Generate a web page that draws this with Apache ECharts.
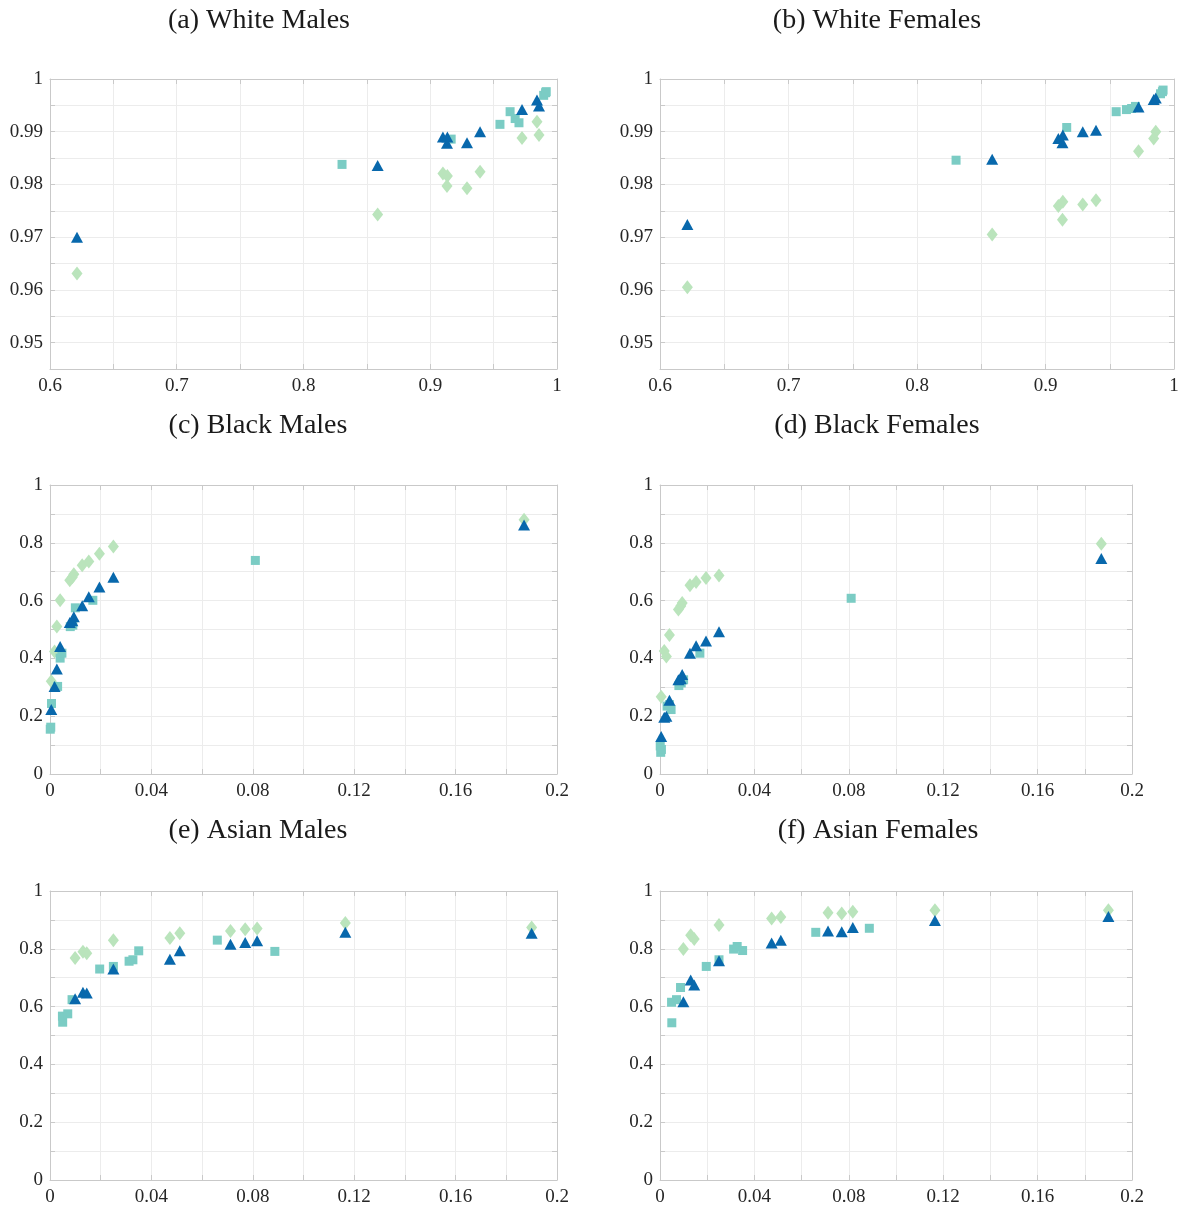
<!DOCTYPE html>
<html>
<head>
<meta charset="utf-8">
<title>Scatter panels</title>
<script src="https://cdn.jsdelivr.net/npm/echarts@6/dist/echarts.min.js"></script>
<style>
  html, body { margin: 0; padding: 0; background: #ffffff; }
  #chart { width: 1182px; height: 1207px; }
</style>
</head>
<body>
<div id="chart"></div>
<script>
// Panel titles
const panelTitles = ['(a) White Males', '(b) White Females', '(c) Black Males',
                     '(d) Black Females', '(e) Asian Males', '(f) Asian Females'];

// ---- White (panels a, b) ----
const whiteModelX = [0.6213, 0.8585, 0.910, 0.9132, 0.9135, 0.929, 0.9393, 0.9724, 0.9842, 0.9858];
const whiteSquareX = [0.8304, 0.9165, 0.955, 0.963, 0.967, 0.970, 0.9895, 0.991, 0.9915];

const whiteMaleDiamond  = [0.9631, 0.9743, 0.9821, 0.9797, 0.9816, 0.9793, 0.9824, 0.9888, 0.9919, 0.9894];
const whiteMaleTriangle = [0.9700, 0.9836, 0.9890, 0.9878, 0.9890, 0.9879, 0.9900, 0.9942, 0.9960, 0.9949];
const whiteMaleSquare   = [0.9838, 0.9886, 0.9914, 0.9938, 0.9925, 0.9917, 0.9969, 0.9974, 0.9976];

const whiteFemaleDiamond  = [0.9605, 0.9705, 0.9759, 0.9733, 0.9767, 0.9762, 0.9770, 0.9863, 0.9887, 0.9900];
const whiteFemaleTriangle = [0.9724, 0.9848, 0.9887, 0.9879, 0.9894, 0.9900, 0.9903, 0.9947, 0.9961, 0.9964];
const whiteFemaleSquare   = [0.9846, 0.9908, 0.9938, 0.9942, 0.9944, 0.9948, 0.9972, 0.9976, 0.9979];

// ---- Black (panels c, d) ----
const blackModelX = [0.0005, 0.0018, 0.0027, 0.004, 0.0078, 0.0088, 0.0094, 0.0127, 0.0153, 0.0195, 0.025, 0.187];
const blackSquareX = [0.0001, 0.0003, 0.0006, 0.003, 0.004, 0.0047, 0.008, 0.009, 0.010, 0.0169, 0.081];

const blackMaleDiamond  = [0.321, 0.424, 0.510, 0.601, 0.670, 0.681, 0.691, 0.722, 0.735, 0.762, 0.787, 0.880];
const blackMaleTriangle = [0.223, 0.303, 0.363, 0.441, 0.524, 0.530, 0.544, 0.582, 0.613, 0.647, 0.681, 0.862];
const blackMaleSquare   = [0.155, 0.162, 0.244, 0.303, 0.401, 0.418, 0.510, 0.515, 0.575, 0.601, 0.739];

const blackFemaleDiamond  = [0.267, 0.426, 0.407, 0.481, 0.569, 0.581, 0.592, 0.653, 0.664, 0.678, 0.687, 0.797];
const blackFemaleTriangle = [0.130, 0.196, 0.200, 0.255, 0.326, 0.330, 0.344, 0.418, 0.444, 0.460, 0.492, 0.746];
const blackFemaleSquare   = [0.097, 0.075, 0.085, 0.235, 0.240, 0.223, 0.306, 0.315, 0.326, 0.418, 0.608];

// ---- Asian (panels e, f) ----
const asianModelX = [0.0099, 0.013, 0.0145, 0.025, 0.0473, 0.0512, 0.0712, 0.077, 0.0817, 0.1165, 0.19];
const asianSquareX = [0.0049, 0.005, 0.007, 0.0087, 0.0196, 0.025, 0.0312, 0.0327, 0.035, 0.066, 0.0887];

const asianMaleDiamond  = [0.768, 0.790, 0.785, 0.830, 0.837, 0.854, 0.862, 0.868, 0.870, 0.889, 0.874];
const asianMaleTriangle = [0.627, 0.650, 0.647, 0.730, 0.764, 0.793, 0.816, 0.822, 0.828, 0.857, 0.854];
const asianMaleSquare   = [0.567, 0.546, 0.575, 0.624, 0.730, 0.739, 0.757, 0.762, 0.793, 0.830, 0.791];

const asianFemaleDiamond  = [0.799, 0.847, 0.834, 0.882, 0.905, 0.910, 0.925, 0.922, 0.928, 0.933, 0.933];
const asianFemaleTriangle = [0.617, 0.692, 0.675, 0.759, 0.820, 0.830, 0.862, 0.859, 0.874, 0.898, 0.912];
const asianFemaleSquare   = [0.615, 0.544, 0.624, 0.666, 0.739, 0.762, 0.799, 0.808, 0.794, 0.857, 0.871];

// Axis ranges: [min, max, grid step, label step]
const whiteXRange = [0.6, 1, 0.05, 0.1];
const whiteYRange = [0.945, 1, 0.005, 0.01];
const shareXRange = [0, 0.2, 0.02, 0.04];
const shareYRange = [0, 1, 0.1, 0.2];

const COLORS = { diamond: '#bae4bc', square: '#7bccc4', triangle: '#0868ac' };
const SERIF = '"Liberation Serif", "DejaVu Serif", serif';
const FRAME = '#c9c9c9';
const GRIDLINE = '#ececec';

const panels = [
  { title: panelTitles[0], grid: { left: 50,  top: 79,  width: 507, height: 290 }, tx: 259, ty: 21,
    xr: whiteXRange, yr: whiteYRange, mx: whiteModelX, sx: whiteSquareX,
    d: whiteMaleDiamond, t: whiteMaleTriangle, s: whiteMaleSquare },
  { title: panelTitles[1], grid: { left: 660, top: 79,  width: 514, height: 290 }, tx: 877, ty: 21,
    xr: whiteXRange, yr: whiteYRange, mx: whiteModelX, sx: whiteSquareX,
    d: whiteFemaleDiamond, t: whiteFemaleTriangle, s: whiteFemaleSquare },
  { title: panelTitles[2], grid: { left: 50,  top: 485, width: 507, height: 289 }, tx: 258, ty: 426,
    xr: shareXRange, yr: shareYRange, mx: blackModelX, sx: blackSquareX,
    d: blackMaleDiamond, t: blackMaleTriangle, s: blackMaleSquare },
  { title: panelTitles[3], grid: { left: 660, top: 485, width: 472, height: 289 }, tx: 877, ty: 426,
    xr: shareXRange, yr: shareYRange, mx: blackModelX, sx: blackSquareX,
    d: blackFemaleDiamond, t: blackFemaleTriangle, s: blackFemaleSquare },
  { title: panelTitles[4], grid: { left: 50,  top: 891, width: 507, height: 289 }, tx: 258, ty: 831,
    xr: shareXRange, yr: shareYRange, mx: asianModelX, sx: asianSquareX,
    d: asianMaleDiamond, t: asianMaleTriangle, s: asianMaleSquare },
  { title: panelTitles[5], grid: { left: 660, top: 891, width: 472, height: 289 }, tx: 878, ty: 831,
    xr: shareXRange, yr: shareYRange, mx: asianModelX, sx: asianSquareX,
    d: asianFemaleDiamond, t: asianFemaleTriangle, s: asianFemaleSquare }
];

function isMultiple(v, step) {
  const q = v / step;
  return Math.abs(q - Math.round(q)) < 1e-6;
}
function tickText(v, step) {
  if (!isMultiple(v, step)) return '';
  return String(parseFloat(v.toFixed(4)));
}
function pairs(xs, ys) {
  return ys.map((y, i) => [xs[i], y]);
}

const grids = [], xAxes = [], yAxes = [], series = [], graphics = [];

panels.forEach((p, i) => {
  grids.push(Object.assign({ containLabel: false }, p.grid));
  const [xmin, xmax, xstep, xlab] = p.xr;
  const [ymin, ymax, ystep, ylab] = p.yr;

  const axisCommon = {
    gridIndex: i,
    axisLine: { show: true, onZero: false, lineStyle: { color: FRAME, width: 1 } },
    axisTick: { show: true, inside: true, length: 5, lineStyle: { color: FRAME } }
  };

  // bottom x axis with labels and grid lines
  xAxes.push(Object.assign({}, axisCommon, {
    type: 'value', position: 'bottom', min: xmin, max: xmax, interval: xstep,
    axisLabel: { show: true, margin: 8, fontFamily: SERIF, fontSize: 19, color: '#262626',
                 formatter: v => tickText(v, xlab), showMinLabel: true, showMaxLabel: true },
    splitLine: { show: true, lineStyle: { color: GRIDLINE, width: 1 } }
  }));
  // top x axis: frame edge with ticks
  xAxes.push(Object.assign({}, axisCommon, {
    type: 'value', position: 'top', min: xmin, max: xmax, interval: xstep,
    axisLabel: { show: false }, splitLine: { show: false }
  }));
  // left y axis with labels and grid lines
  yAxes.push(Object.assign({}, axisCommon, {
    type: 'value', position: 'left', min: ymin, max: ymax, interval: ystep,
    axisLabel: { show: true, margin: 7, fontFamily: SERIF, fontSize: 19, color: '#262626',
                 formatter: v => tickText(v, ylab), showMinLabel: true, showMaxLabel: true },
    splitLine: { show: true, lineStyle: { color: GRIDLINE, width: 1 } }
  }));
  // right y axis: frame edge with ticks
  yAxes.push(Object.assign({}, axisCommon, {
    type: 'value', position: 'right', min: ymin, max: ymax, interval: ystep,
    axisLabel: { show: false }, splitLine: { show: false }
  }));

  const xi = 2 * i, yi = 2 * i;
  series.push({
    type: 'scatter', xAxisIndex: xi, yAxisIndex: yi, symbol: 'diamond', symbolSize: [11, 14],
    itemStyle: { color: COLORS.diamond, opacity: 1 }, data: pairs(p.mx, p.d), z: 2, silent: true
  });
  series.push({
    type: 'scatter', xAxisIndex: xi, yAxisIndex: yi, symbol: 'rect', symbolSize: 9,
    itemStyle: { color: COLORS.square, opacity: 1 }, data: pairs(p.sx, p.s), z: 3, silent: true
  });
  series.push({
    type: 'scatter', xAxisIndex: xi, yAxisIndex: yi, symbol: 'triangle', symbolSize: [12, 11],
    itemStyle: { color: COLORS.triangle, opacity: 1 }, data: pairs(p.mx, p.t), z: 4, silent: true
  });

  graphics.push({
    type: 'text', x: p.tx, y: p.ty,
    style: { text: p.title, font: '28px ' + SERIF, fill: '#1a1a1a', align: 'center', verticalAlign: 'middle' }
  });
});

const chart = echarts.init(document.getElementById('chart'), null, { renderer: 'canvas' });
chart.setOption({
  backgroundColor: '#ffffff',
  animation: false,
  grid: grids,
  xAxis: xAxes,
  yAxis: yAxes,
  series: series,
  graphic: graphics
});
</script>
</body>
</html>
